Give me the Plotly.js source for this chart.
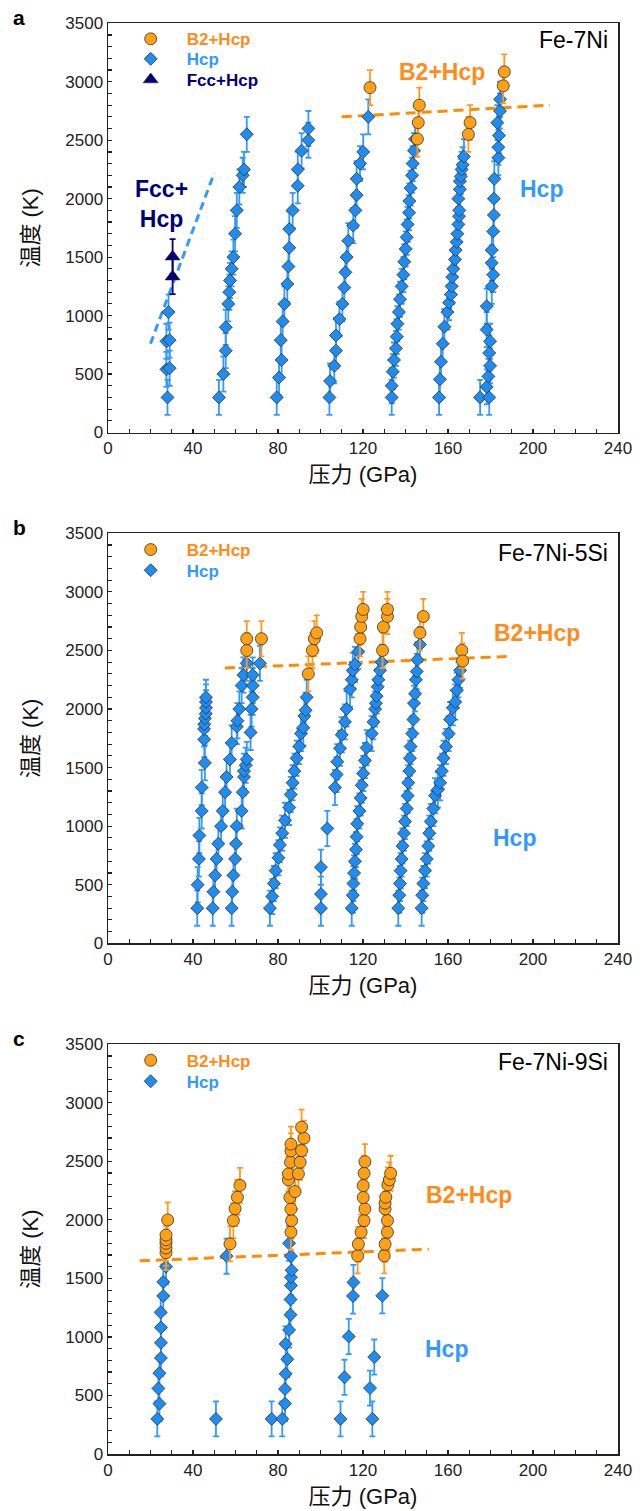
<!DOCTYPE html>
<html><head><meta charset="utf-8">
<script src="https://cdn.plot.ly/plotly-3.0.1.min.js"></script>
<style>html,body{margin:0;padding:0;background:#fff}#chart{width:640px;height:1511px}</style>
</head><body><div id="chart"></div>
<script>
// ---------------- DATA ----------------
// Panel a : Fe-7Ni
const hcpA_P = [28,27.5,29,27.5,29,28.5,
 52.2,54.3,55.4,55.4,56.6,57.1,57.4,58.2,59,59.8,60.6,61.8,63.4,64,65.3,
 79.4,80.5,81.7,81.3,82.2,83,84.4,84.9,85.3,85.3,86.9,89.3,89.3,91.1,94.3,94.3,
 104.2,104.5,106.5,107.3,107.3,108.9,110.3,111.2,111.7,112.3,113.1,115.4,116.4,117,117,118.6,120.1,122.5,
 133.5,133.5,134,134.6,135.5,135.9,136.2,136.9,137.4,138.2,139,139.4,140.1,140.6,141,141.7,141.8,142.4,143.1,143.4,144,144.5,
 155.8,156.2,156.7,157.5,158.3,159.7,160.5,161.4,161.7,162,162.5,163.3,163.6,164.1,164.4,164.9,165.2,165.3,164.9,165.6,165.6,166,166.4,166.9,167.5,
 175.1,179.4,178.2,179,179.8,179.4,179.8,178.2,178.2,180.6,181.3,180.6,180.6,181.3,181.6,181.6,181.8,183.7,183.7,184,183.2,184.5,184.5];
const hcpA_T = [300,540,550,780,790,1030,
 300,500,700,900,1100,1200,1300,1400,1500,1700,1900,2100,2200,2250,2550,
 300,470,620,790,950,1100,1270,1420,1580,1740,1900,2110,2250,2410,2500,2600,
 300,440,570,700,830,970,1100,1240,1370,1500,1640,1770,1900,2030,2170,2300,2400,2700,
 300,400,520,620,720,820,930,1030,1140,1250,1350,1460,1570,1670,1780,1880,1980,2090,2200,2300,2410,2510,
 300,455,605,760,905,1030,1110,1180,1250,1330,1400,1480,1560,1630,1700,1780,1850,1900,2000,2080,2150,2190,2250,2290,2360,
 300,300,390,480,570,680,780,880,1080,1250,1350,1450,1560,1720,1860,2000,2170,2350,2440,2540,2650,2750,2850];
const b2A_P = [123.3,145.6,146,146.5,169.6,170.4,186,186.5];
const b2A_T = [2950,2510,2650,2800,2550,2650,2965,3085];
const fccA_P = [30.4,30.4];
const fccA_T = [1333,1504];
const fccLineA_P = [20,50];
const fccLineA_T = [760,2220];
const b2LineA_P = [110,208];
const b2LineA_T = [2700,2800];

// Panel b : Fe-7Ni-5Si
const hcpB_P = [42,42.2,42.8,43,44.1,44.1,45.6,45.3,45.2,45.3,45.6,46,46.1,46.1,46.1,
 49.3,49.6,50.4,51.1,51.9,53.2,54,55.1,55.8,57.4,58.2,60.6,60.9,61.8,62.9,63.7,65.3,
 58.2,58.5,59,59.8,60.2,60.6,62.9,63.4,64,64,64.8,65.3,67.1,67.6,68.1,68.1,68.1,71.5,
 76.2,77.3,78.1,78.9,80.2,80.9,82,83.3,85.3,86,86.9,87.7,88.8,90,90.8,91.9,92.4,93,93.5,
 100.2,100.2,100.2,103.2,106.8,107.6,107.9,109.2,110,111.5,112.3,113.9,114.7,115.2,116.2,117.8,
 114.7,115.2,115.5,115.8,116.2,116.7,117,117.3,118.3,118.9,119.4,120.1,120.9,121.7,124.1,124.9,125.7,126.1,126.4,126.9,127.2,128,128.8,
 136.6,137.1,137.4,137.7,138.2,138.6,139.3,139.8,140.6,141,141.3,141.8,142.1,142.4,143.2,143.7,144,144.5,144.9,145.3,145.6,146.8,
 147.6,147.9,148.4,149.2,150,150.7,151.2,151.9,153.1,153.9,155.2,156.3,157.1,157.9,159.1,160.3,161,162.3,163.4,164.2,164.9,165.7];
const hcpB_T = [300,500,720,920,1130,1330,1540,1740,1830,1870,1920,1960,2010,2060,2100,
 300,440,580,720,850,1000,1130,1290,1420,1570,1710,1850,1900,2000,2200,2290,2390,
 300,440,580,720,850,1000,1130,1290,1420,1470,1520,1570,1800,2000,2100,2200,2290,2390,
 300,400,510,620,730,840,940,1050,1160,1270,1370,1470,1580,1680,1790,1840,1940,1990,2100,
 300,420,650,980,1330,1440,1550,1665,1780,1890,2000,2170,2250,2330,2380,2490,
 300,410,510,600,700,800,910,1020,1130,1240,1350,1450,1560,1670,1790,1890,2000,2050,2110,2190,2250,2330,2400,
 300,410,510,620,720,830,940,1040,1150,1260,1370,1470,1580,1680,1790,1910,2050,2130,2250,2320,2420,2550,
 300,410,510,620,720,830,940,1040,1150,1260,1310,1370,1470,1580,1680,1790,1910,2010,2060,2160,2250,2330];
const b2B_P = [65.3,65.3,72.2,94.3,96.2,97.1,98.2,118.6,118.9,119.4,120.1,129.2,129.6,131.5,131.5,146.8,148.4,166.5,166.9];
const b2B_T = [2500,2600,2600,2300,2500,2600,2650,2600,2700,2790,2850,2500,2700,2790,2850,2650,2790,2500,2410];
const b2LineB_P = [55,190];
const b2LineB_T = [2350,2450];

// Panel c : Fe-7Ni-9Si
const hcpC_P = [23.2,24.2,23.7,24.2,24.9,24.9,24.9,24.8,26,26,27.3,
 50.8,55.8,
 77,82,83.3,83.3,83.6,84.4,83.6,85.2,85.9,85.9,86.1,86.1,86.4,86.1,85.2,
 109.4,111.3,113.3,115.3,115.5,124.4,123.3,125.3,129.1];
const hcpC_T = [300,430,560,690,820,950,1080,1210,1350,1470,1600,
 300,1690,
 300,300,430,555,685,810,940,1060,1190,1320,1440,1510,1570,1690,1800,
 300,655,1004,1350,1466,300,563,828,1352];
const b2C_P = [27.3,27.3,27.3,27.3,27.3,28.1,
 57.4,59,59.8,60.9,62.1,
 86.1,86.4,86.1,85.6,84.9,84.9,85.9,86.1,86.1,88,89.6,90.4,91.1,92.2,91.1,
 117.5,117.8,119.1,120.5,120.9,120.1,120.1,120.5,120.9,
 130,130.4,131.5,131.5,130.4,130.4,130.7,131.7,132.4,133];
const b2C_T = [1720,1760,1800,1830,1870,2000,
 1795,1994,2096,2193,2295,
 1895,1994,2092,2191,2342,2393,2493,2589,2647,2242,2393,2493,2592,2698,2792,
 1693,1792,1895,1994,2093,2191,2293,2398,2497,
 1693,1792,1895,1994,2093,2143,2194,2299,2342,2398];
const b2LineC_P = [15,151];
const b2LineC_T = [1650,1750];

const tempErr = 150;
const xTitle = '压力 (GPa)';
const yTitle = '温度 (K)';
const sampleNames = ['Fe-7Ni','Fe-7Ni-5Si','Fe-7Ni-9Si'];
const panelLetters = ['a','b','c'];
const seriesNames = ['B2+Hcp','Hcp','Fcc+Hcp'];

// ---------------- LAYOUT ----------------
const F = 'Liberation Sans, Arial, Noto Sans CJK SC, sans-serif';
const W=640, H=1511, ML=108, MR=22, MT=23, MB=57;
const PH=H-MT-MB, PW=W-ML-MR;
const py = p => 1-(p-MT)/PH;
const px = p => (p-ML)/PW;
const frames = [[23.3,432.5],[533.3,943.3],[1044.3,1454.3]];

const ORANGE='#FF8C1A', CIRC='#FFA114', BLUE='#3399FF', DIAM='#1E8CF0', NAVY='#000078';

function xax(i){
  return {domain:[0,1], anchor:i===0?'y':'y'+(i+1), range:[0,240], tick0:0, dtick:40,
    ticks:'inside', ticklen:4, tickwidth:1.2, tickcolor:'#222',
    minor:{ticks:'inside', dtick:10, ticklen:4, tickwidth:1.2, tickcolor:'#222'},
    showline:true, mirror:true, linecolor:'#222', linewidth:1.5, showgrid:false, zeroline:false,
    tickfont:{family:F,size:17,color:'#222'}, automargin:false,
    title:{text:xTitle, font:{family:F,size:22,color:'#111'}, standoff:9}};
}
function yax(i){
  const f=frames[i];
  return {domain:[py(f[1]),py(f[0])], anchor:i===0?'x':'x'+(i+1), range:[0,3500], tick0:0, dtick:500,
    ticks:'inside', ticklen:4, tickwidth:1.2, tickcolor:'#222',
    minor:{ticks:'inside', dtick:100, ticklen:4, tickwidth:1.2, tickcolor:'#222'},
    showline:true, mirror:true, linecolor:'#222', linewidth:1.5, showgrid:false, zeroline:false,
    tickfont:{family:F,size:17,color:'#222'}, automargin:false,
    title:{text:yTitle, font:{family:F,size:22,color:'#111'}, standoff:20}};
}

function errY(c){return {type:'constant', value:tempErr, color:c, thickness:1.8, width:3};}
function lineTr(x,y,c,i,dash){
  return {type:'scatter', mode:'lines', x:x, y:y, xaxis:i===0?'x':'x'+(i+1), yaxis:i===0?'y':'y'+(i+1),
    line:{color:c,width:3,dash:dash}, showlegend:false, hoverinfo:'skip'};
}
function hcpTr(x,y,i,leg){
  return {type:'scatter', mode:'markers', x:x, y:y, xaxis:i===0?'x':'x'+(i+1), yaxis:i===0?'y':'y'+(i+1),
    name:'<span style="color:'+BLUE+'">'+seriesNames[1]+'</span>', legend:leg, legendrank:2,
    marker:{symbol:'diamond', size:10, color:DIAM, line:{color:'#333',width:0.8}}, error_y:errY(BLUE)};
}
function b2Tr(x,y,i,leg){
  return {type:'scatter', mode:'markers', x:x, y:y, xaxis:i===0?'x':'x'+(i+1), yaxis:i===0?'y':'y'+(i+1),
    name:'<span style="color:'+ORANGE+'">'+seriesNames[0]+'</span>', legend:leg, legendrank:1,
    marker:{symbol:'circle', size:12, color:CIRC, line:{color:'#333',width:0.8}}, error_y:errY('#FF9A1F')};
}
function fccTr(x,y,i,leg){
  return {type:'scatter', mode:'markers', x:x, y:y, xaxis:'x', yaxis:'y',
    name:'<span style="color:'+NAVY+'">'+seriesNames[2]+'</span>', legend:leg, legendrank:3,
    marker:{symbol:'triangle-up', size:13, color:NAVY, line:{color:'#222',width:0.6}}, error_y:errY(NAVY)};
}

const data = [
  lineTr(fccLineA_P,fccLineA_T,BLUE,0,'8px,5px'),
  lineTr(b2LineA_P,b2LineA_T,'#FF8C00',0,'10px,6px'),
  hcpTr(hcpA_P,hcpA_T,0,'legend2'),
  fccTr(fccA_P,fccA_T,0,'legend3'),
  b2Tr(b2A_P,b2A_T,0,'legend'),
  lineTr(b2LineB_P,b2LineB_T,'#FF8C00',1,'10px,6px'),
  hcpTr(hcpB_P,hcpB_T,1,'legend5'),
  b2Tr(b2B_P,b2B_T,1,'legend4'),
  lineTr(b2LineC_P,b2LineC_T,'#FF8C00',2,'10px,6px'),
  hcpTr(hcpC_P,hcpC_T,2,'legend7'),
  b2Tr(b2C_P,b2C_T,2,'legend6')
];

function leg(pyc){
  return {x:px(114.7), y:py(pyc), xanchor:'left', yanchor:'middle', bgcolor:'rgba(0,0,0,0)',
    borderwidth:0, itemwidth:62, font:{family:F,size:17,weight:'bold'}};
}

const ann = [];
panelLetters.forEach((l,i)=>{
  ann.push({xref:'paper', yref:'paper', x:px(19), y:py(frames[i][0]-6), text:'<b>'+l+'</b>', showarrow:false,
    font:{family:F,size:21,color:'#000'}, xanchor:'center', yanchor:'middle'});
  ann.push({xref:(i===0?'x':'x'+(i+1))+' domain', yref:(i===0?'y':'y'+(i+1))+' domain', x:0.984,
    y:[0.9597,0.952,0.957][i], text:sampleNames[i], showarrow:false, xanchor:'right', yanchor:'middle',
    font:{family:F,size:23,color:'#000'}});
});
function lab(i,x,y,t,c){
  ann.push({xref:i===0?'x':'x'+(i+1), yref:i===0?'y':'y'+(i+1), x:x, y:y, text:'<b>'+t+'</b>', showarrow:false,
    xanchor:'center', yanchor:'middle', font:{family:F,size:23,color:c}});
}
lab(0,25,1955,'Fcc+<br>Hcp',NAVY);
lab(0,157,3085,'B2+Hcp',ORANGE);
lab(0,204,2083,'Hcp',BLUE);
lab(1,202,2649,'B2+Hcp',ORANGE);
lab(1,191.5,903,'Hcp',BLUE);
lab(2,170,2209,'B2+Hcp',ORANGE);
lab(2,159.3,899,'Hcp',BLUE);

const layout = {
  width:W, height:H, margin:{l:ML,r:MR,t:MT,b:MB}, paper_bgcolor:'#fff', plot_bgcolor:'#fff',
  font:{family:F,color:'#222'},
  xaxis:xax(0), xaxis2:xax(1), xaxis3:xax(2),
  yaxis:yax(0), yaxis2:yax(1), yaxis3:yax(2),
  legend:leg(39.3), legend2:leg(59.3), legend3:leg(80),
  legend4:leg(550), legend5:leg(570.7),
  legend6:leg(1060.7), legend7:leg(1081.7),
  annotations:ann, showlegend:true
};
Plotly.newPlot('chart', data, layout, {displayModeBar:false, staticPlot:true});
</script></body></html>
